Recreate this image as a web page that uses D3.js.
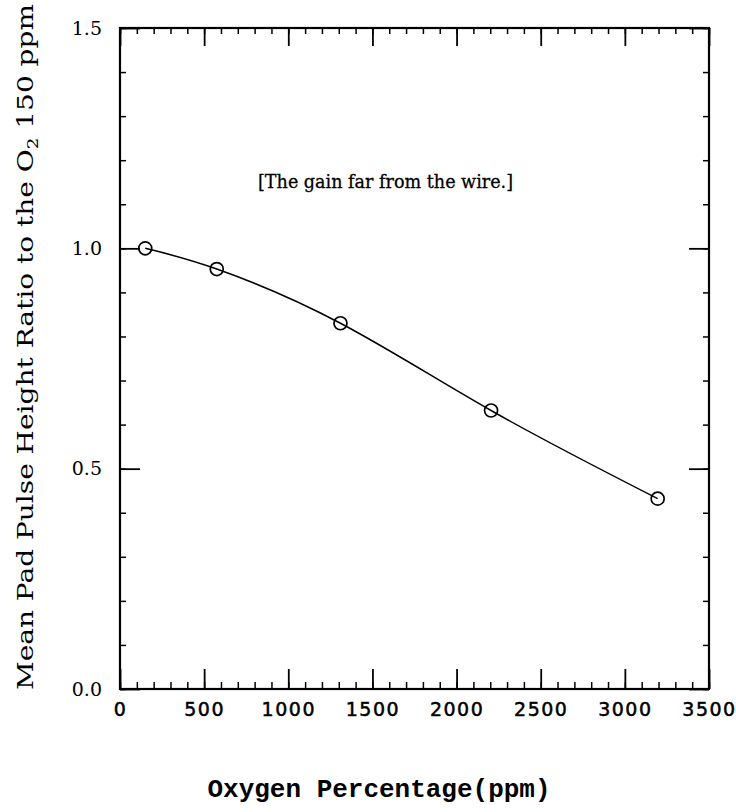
<!DOCTYPE html>
<html>
<head>
<meta charset="utf-8">
<script src="https://cdn.jsdelivr.net/npm/d3@7"></script>
<style>
  html, body { margin: 0; padding: 0; background: #fff; }
  svg { display: block; }
</style>
</head>
<body>
<div id="chart"></div>
<script>
// ---- data ----
const oxygenPpm = [150, 575, 1310, 2205, 3195];
const pulseRatio = [1.0, 0.953, 0.830, 0.632, 0.432];
const xTickValues = [0, 500, 1000, 1500, 2000, 2500, 3000, 3500];
const yTickValues = [0, 0.5, 1.0, 1.5];
const yTickLabels = ["0.0", "0.5", "1.0", "1.5"];
const xTitle = "Oxygen Percentage(ppm)";
const annotation = "[The gain far from the wire.]";

// ---- layout ----
const W = 736, H = 812;
const mLeft = 120, mRight = 709, mTop = 28, mBottom = 689;

const svg = d3.select("#chart").append("svg").attr("width", W).attr("height", H);

const x = d3.scaleLinear().domain([0, 3500]).range([mLeft, mRight]);
const y = d3.scaleLinear().domain([0, 1.5]).range([mBottom, mTop]);

const xMinor = d3.range(0, 3501, 100);
const yMinor = d3.range(0, 16).map(i => +(i * 0.1).toFixed(1));

function styleAxis(g, w) {
  g.select(".domain").remove();
  g.selectAll(".tick line").attr("stroke", "#000").attr("stroke-width", w);
}

// bottom axis
const gb = svg.append("g").attr("transform", `translate(0,${mBottom})`);
gb.call(d3.axisBottom(x).tickValues(xMinor).tickSize(-7).tickFormat(""));
styleAxis(gb, 1.5);
const gbM = svg.append("g").attr("transform", `translate(0,${mBottom})`);
gbM.call(d3.axisBottom(x).tickValues(xTickValues).tickSize(-20).tickPadding(14).tickFormat(d3.format("d")));
styleAxis(gbM, 1.8);
gbM.selectAll(".tick text")
  .attr("font-family", "'DejaVu Sans', sans-serif")
  .attr("font-size", 19)
  .attr("letter-spacing", 1.5)
  .attr("fill", "#000")
  .attr("stroke", "#000").attr("stroke-width", 0.5);

// top axis
const gt = svg.append("g").attr("transform", `translate(0,${mTop})`);
gt.call(d3.axisTop(x).tickValues(xMinor).tickSize(-6).tickFormat(""));
styleAxis(gt, 1.5);
const gtM = svg.append("g").attr("transform", `translate(0,${mTop})`);
gtM.call(d3.axisTop(x).tickValues(xTickValues).tickSize(-18).tickFormat(""));
styleAxis(gtM, 1.8);

// left axis
const gl = svg.append("g").attr("transform", `translate(${mLeft},0)`);
gl.call(d3.axisLeft(y).tickValues(yMinor).tickSize(-6).tickFormat(""));
styleAxis(gl, 1.5);
const glM = svg.append("g").attr("transform", `translate(${mLeft},0)`);
glM.call(d3.axisLeft(y).tickValues(yTickValues).tickSize(-20).tickPadding(18)
  .tickFormat((d, i) => yTickLabels[i]));
styleAxis(glM, 1.8);
glM.selectAll(".tick text")
  .attr("font-family", "'DejaVu Serif', serif")
  .attr("font-size", 19)
  .attr("fill", "#000");

// right axis
const gr = svg.append("g").attr("transform", `translate(${mRight},0)`);
gr.call(d3.axisRight(y).tickValues(yMinor).tickSize(-6).tickFormat(""));
styleAxis(gr, 1.5);
const grM = svg.append("g").attr("transform", `translate(${mRight},0)`);
grM.call(d3.axisRight(y).tickValues(yTickValues).tickSize(-20).tickFormat(""));
styleAxis(grM, 1.8);

// frame
svg.append("rect")
  .attr("x", mLeft).attr("y", mTop)
  .attr("width", mRight - mLeft).attr("height", mBottom - mTop)
  .attr("fill", "none").attr("stroke", "#000").attr("stroke-width", 2.2);

// curve
const pts = oxygenPpm.map((v, i) => [v, pulseRatio[i]]);
const line = d3.line().x(d => x(d[0])).y(d => y(d[1])).curve(d3.curveNatural);
svg.append("path").datum(pts)
  .attr("d", line).attr("fill", "none").attr("stroke", "#000").attr("stroke-width", 1.5);

// markers
svg.selectAll("circle.pt").data(pts).enter().append("circle")
  .attr("class", "pt")
  .attr("cx", d => x(d[0])).attr("cy", d => y(d[1]))
  .attr("r", 6.5)
  .attr("fill", "none").attr("stroke", "#000").attr("stroke-width", 1.7);

// annotation
svg.append("text")
  .attr("x", 258).attr("y", 188)
  .attr("font-family", "'DejaVu Serif', serif")
  .attr("font-size", 19)
  .attr("textLength", 255).attr("lengthAdjust", "spacingAndGlyphs")
  .attr("fill", "#000")
  .attr("stroke", "#000").attr("stroke-width", 0.3)
  .text(annotation);

// x title
svg.append("text")
  .attr("x", 379).attr("y", 797)
  .attr("text-anchor", "middle")
  .attr("font-family", "'Liberation Mono', 'DejaVu Sans Mono', monospace")
  .attr("font-weight", "bold")
  .attr("font-size", 25)
  .attr("textLength", 343).attr("lengthAdjust", "spacingAndGlyphs")
  .attr("fill", "#000")
  .text(xTitle);

// y title
const yt = svg.append("text")
  .attr("transform", "translate(33,347) rotate(-90)")
  .attr("text-anchor", "middle")
  .attr("font-family", "'DejaVu Serif', serif")
  .attr("font-size", 23)
  .attr("textLength", 686).attr("lengthAdjust", "spacingAndGlyphs")
  .attr("fill", "#000");
yt.append("tspan").text("Mean Pad Pulse Height Ratio to the O");
yt.append("tspan").attr("font-size", 15).attr("dy", 5).text("2");
yt.append("tspan").attr("dy", -5).text(" 150 ppm");
</script>
</body>
</html>
